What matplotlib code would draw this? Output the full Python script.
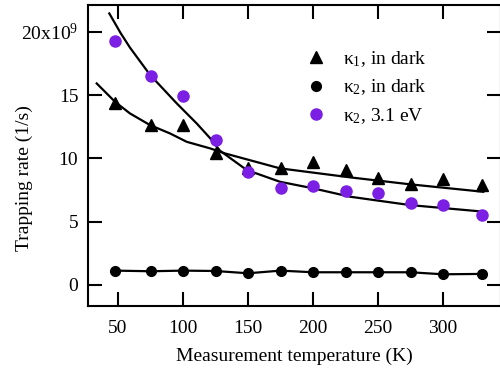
import matplotlib
matplotlib.use("Agg")
import matplotlib.pyplot as plt
from matplotlib.ticker import FixedLocator

plt.rcParams['font.family'] = ['Liberation Serif', 'DejaVu Serif']
plt.rcParams['mathtext.fontset'] = 'custom'
plt.rcParams['mathtext.rm'] = 'Liberation Serif'
plt.rcParams['mathtext.default'] = 'regular'

# measurement temperatures (K)
temps = [48, 75, 100, 125, 150, 175, 200, 225, 250, 275, 300, 330]

# trapping rates in units of 1e9 1/s
k1_dark = [14.4, 12.6, 12.6, 10.4, 9.2, 9.2, 9.75, 9.1, 8.45, 8.0, 8.4, 7.9]
k2_dark = [1.13, 1.08, 1.13, 1.10, 0.92, 1.13, 1.0, 1.0, 1.0, 1.0, 0.84, 0.87]
k2_light = [19.25, 16.5, 14.95, 11.45, 8.9, 7.65, 7.8, 7.4, 7.3, 6.45, 6.3, 5.5]

# fitted curves
fit1_t = [33.6, 47.7, 59.2, 74.6, 90, 102.8, 120.8, 132.3, 174.6, 228.5, 274.6, 331]
fit1_v = [15.92, 14.47, 13.55, 12.63, 11.97, 11.31, 10.79, 10.39, 9.21, 8.50, 7.95, 7.36]
fit2_t = [43.3, 52, 59.2, 74.6, 95.2, 110.5, 120.8, 128.5, 149, 174.6, 200.2, 228.5, 274.6, 331]
fit2_v = [21.45, 19.9, 18.75, 16.6, 14.34, 12.76, 11.6, 10.6, 9.08, 8.15, 7.63, 6.97, 6.31, 5.79]

xticks = [50, 100, 150, 200, 250, 300]
yticks = [0, 5, 10, 15, 20]
ylabels = ['0', '5', '10', '15', '20x10$^{9}$']

purple = '#7a1fe3'

fig = plt.figure(figsize=(5, 3.74), dpi=100)
ax = fig.add_axes([0.176, 0.182, 0.826, 0.805])

ax.plot(fit1_t, fit1_v, color='black', lw=1.6)
ax.plot(fit2_t, fit2_v, color='black', lw=1.6)
ax.plot(temps, k2_dark, color='black', lw=1.6)

ax.plot(temps, k1_dark, '^', color='black', ms=9, label=r'κ$_{1}$, in dark')
ax.plot(temps, k2_dark, 'o', color='black', ms=7, label=r'κ$_{2}$, in dark')
ax.plot(temps, k2_light, 'o', color=purple, ms=8, label=r'κ$_{2}$, 3.1 eV')

ax.set_xlim(26.9, 344.6)
ax.set_ylim(-1.66, 22.13)
ax.xaxis.set_major_locator(FixedLocator(xticks))
ax.yaxis.set_major_locator(FixedLocator(yticks))
ax.set_yticklabels(ylabels)

ax.tick_params(direction='in', length=10, width=1.5, labelsize=14,
               top=True, right=True, pad=7)
ax.tick_params(axis='x', pad=10)
for s in ax.spines.values():
    s.set_linewidth(1.5)

ax.set_xlabel('Measurement temperature (K)', fontsize=14, labelpad=8)
ax.set_ylabel('Trapping rate (1/s)', fontsize=14)
ax.yaxis.set_label_coords(-0.134, 0.425)

ax.legend(loc='upper left', bbox_to_anchor=(0.505, 0.879), frameon=False,
          fontsize=14, handletextpad=0.79, labelspacing=0.45, handlelength=1.2,
          borderaxespad=0)

fig.savefig('out.png', dpi=100)
